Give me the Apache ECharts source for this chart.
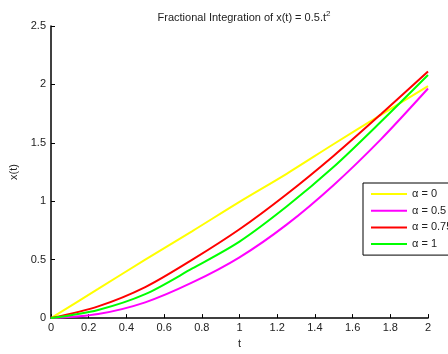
<!DOCTYPE html>
<html>
<head>
<meta charset="utf-8">
<script src="https://cdn.jsdelivr.net/npm/echarts@6/dist/echarts.min.js"></script>
<style>
  html, body { margin: 0; padding: 0; background: #fff; }
  #main { width: 448px; height: 354px; }
</style>
</head>
<body>
<div id="main"></div>
<script>
// t 轴取样点
const tValues = [0, 0.25, 0.5, 0.75, 1, 1.25, 1.5, 1.75, 2];
// 各阶分数积分曲线
const alpha0 = [0, 0.25, 0.5, 0.745, 0.995, 1.235, 1.49, 1.74, 1.985];
const alpha05 = [0, 0.035, 0.135, 0.305, 0.52, 0.8, 1.14, 1.53, 1.965];
const alpha075 = [0, 0.1, 0.265, 0.5, 0.76, 1.06, 1.39, 1.745, 2.11];
const alpha1 = [0, 0.07, 0.205, 0.425, 0.655, 0.955, 1.295, 1.68, 2.08];
const legendNames = ["α = 0", "α = 0.5", "α = 0.75", "α = 1"];

const myChart = echarts.init(document.getElementById("main"));

function toPairs(ys) {
  return tValues.map((t, i) => [t, ys[i]]);
}

function makeSeries(name, ys, color) {
  return {
    name: name,
    type: "line",
    data: toPairs(ys),
    symbol: "none",
    smooth: 0.3,
    color: color,
    lineStyle: { color: color, width: 2 },
  };
}

const axisFont = { fontFamily: "Liberation Sans", fontSize: 11, color: "#222" };

const option = {
  backgroundColor: "#fff",
  animation: false,
  title: {
    text: "{a|Fractional Integration of x(t) = 0.5.t}{s|2}",
    left: 239,
    textAlign: "center",
    top: 5,
    textStyle: {
      fontWeight: "normal",
      rich: {
        a: { fontFamily: "Liberation Sans", fontSize: 11, fontWeight: "normal", color: "#222" },
        s: { fontFamily: "Liberation Sans", fontSize: 8, fontWeight: "normal", color: "#222", padding: [0, 0, 7, 0] },
      },
    },
  },
  grid: { left: 51, right: 20, top: 26, bottom: 31 },
  legend: {
    orient: "vertical",
    left: 363,
    top: 183,
    data: legendNames,
    icon: "rect",
    itemWidth: 36,
    itemHeight: 2,
    itemGap: 2.7,
    padding: [4, 40, 4, 8],
    borderColor: "#000",
    borderWidth: 1,
    backgroundColor: "#fff",
    textStyle: { fontFamily: "Liberation Sans", fontSize: 11, color: "#222", lineHeight: 14 },
  },
  xAxis: {
    type: "value",
    min: 0,
    max: 2,
    interval: 0.2,
    name: "t",
    nameLocation: "middle",
    nameGap: 19,
    nameTextStyle: axisFont,
    axisLine: { lineStyle: { color: "#000", width: 1.5 } },
    axisTick: { inside: true, length: 4, lineStyle: { color: "#000" } },
    axisLabel: Object.assign({ margin: 4 }, axisFont),
    splitLine: { show: false },
  },
  yAxis: {
    type: "value",
    min: 0,
    max: 2.5,
    interval: 0.5,
    name: "x(t)",
    nameLocation: "middle",
    nameGap: 31,
    nameRotate: 90,
    nameTextStyle: axisFont,
    axisLine: { show: true, lineStyle: { color: "#000", width: 1.5 } },
    axisTick: { show: true, inside: true, length: 4, lineStyle: { color: "#000" } },
    axisLabel: Object.assign({ margin: 5 }, axisFont),
    splitLine: { show: false },
  },
  series: [
    makeSeries(legendNames[0], alpha0, "#ffff00"),
    makeSeries(legendNames[1], alpha05, "#ff00ff"),
    makeSeries(legendNames[2], alpha075, "#ff0000"),
    makeSeries(legendNames[3], alpha1, "#00ff00"),
  ],
};

myChart.setOption(option);
</script>
</body>
</html>
